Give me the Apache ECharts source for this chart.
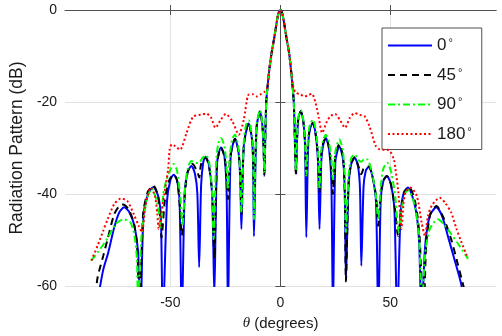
<!DOCTYPE html>
<html lang="en" style="height: 100%">
<head>
<meta charset="utf-8">
<title>Radiation Pattern</title>
</head>
<body style="height: 100%; margin: 0; background: #fff">
<div id="container" style="width: 502px; height: 336px"></div>

<script type="text/javascript" src="https://cdn.jsdelivr.net/npm/echarts@6/dist/echarts.min.js"></script>

<script type="text/javascript">

// [theta (deg), pattern (dB)]
const seriesNames = ['0', '45', '90', '180'];
const xTicks = [-50, 0, 50];
const yTicks = [-60, -40, -20, 0];

const mainLobe = [
    [-6.4, -20], [-5.1, -13.3], [-4.0, -9.4], [-2.8, -6.1], [-1.6, -2.5], [-0.8, -0.6],
    [0, 0], [0.8, -0.6], [1.6, -2.5], [2.8, -6.1], [4.0, -9.4], [4.9, -13.3], [6.1, -20]
];

const pattern0 = [
    [-82.6, -62], [-80.5, -56.5], [-78.2, -52.7], [-75.5, -47.3], [-73.2, -44.0], [-71.0, -42.9],
    [-68.8, -43.8], [-66.3, -46.9], [-64.6, -53], [-63.6, -68],
    [-62.2, -44.7], [-60.0, -39.8], [-57.7, -38.5], [-55.5, -40.5], [-54.3, -45], [-53.4, -68],
    [-51.5, -41.5], [-50.0, -37.0], [-48.5, -35.8], [-47.0, -36.8], [-45.8, -41.5], [-44.8, -68],
    [-43.5, -40.0], [-42.2, -35.3], [-40.4, -33.9], [-38.8, -35.6], [-37.7, -40], [-36.9, -55.9],
    [-36.0, -38.0], [-35.0, -33.0], [-34.0, -31.9], [-32.6, -33.3], [-31.0, -40.0], [-30.0, -62],
    [-28.8, -33.5], [-27.0, -29.9], [-25.4, -31.8], [-24.4, -40], [-23.8, -66],
    [-22.6, -32], [-20.6, -28.0], [-19.1, -30.5], [-18.2, -37], [-17.7, -47.6],
    [-16.6, -29.5], [-14.4, -24.7], [-12.9, -28], [-12.4, -33], [-12.0, -49.2],
    [-10.8, -25.5], [-9.2, -22.0], [-8.1, -25.5], [-7.6, -30], [-7.3, -36],
    ...mainLobe,
    [7.1, -35.7], [7.6, -28], [8.2, -23.5], [9.3, -22.0], [10.5, -24.5], [11.2, -29], [11.8, -49.4],
    [12.6, -30], [13.4, -26], [14.8, -24.5], [16.2, -27.5], [17.1, -33], [17.8, -47.6],
    [18.6, -33], [19.4, -29.5], [20.7, -27.8], [22.2, -30.5], [23.2, -38], [23.9, -66],
    [25.0, -33], [26.8, -29.6], [28.5, -32.5], [29.3, -40], [29.8, -58.8],
    [31.0, -38], [32.2, -33.5], [33.8, -32.1], [35.3, -34], [36.2, -39], [36.8, -55.6],
    [37.8, -38.5], [38.8, -35], [40.2, -34.1], [42.0, -36.5], [43.5, -42], [44.5, -68],
    [45.6, -41.5], [46.8, -37.2], [48.4, -36.1], [50.2, -37.8], [51.8, -43], [53.1, -68],
    [54.6, -44.7], [56.1, -39.7], [58.0, -38.6], [61.2, -42.6], [63.0, -49.8], [64.2, -68],
    [65.7, -52], [67.9, -44.7], [70.9, -42.9], [73.5, -44.8], [76.1, -49.1], [79.0, -54], [82.0, -59.2], [83.0, -62]
];

const pattern45 = [
    [-84.0, -62], [-83.0, -58], [-80.5, -53.5], [-78.5, -49.8], [-75.5, -44.4], [-73.2, -42.6], [-71.5, -42.3],
    [-69.0, -43.3], [-66.5, -46.5], [-65.0, -52], [-64.0, -68],
    [-62.4, -44.5], [-60.2, -39.5], [-57.6, -38.2], [-55.6, -40.5], [-54.6, -45], [-54.0, -49.5],
    [-52.5, -41.5], [-50.5, -37], [-48.5, -35.8], [-47.0, -37], [-45.8, -42], [-44.8, -49],
    [-43.3, -39.5], [-42.0, -35], [-39.9, -33.5], [-37.5, -35.5], [-36.9, -36.4], [-36.0, -33.5],
    [-34.0, -32.1], [-32.4, -34], [-31.0, -40], [-30.0, -54.1],
    [-28.8, -33.5], [-27.0, -29.9], [-25.3, -32], [-24.4, -37], [-23.8, -41.1],
    [-22.8, -32], [-20.6, -28.0], [-19.1, -30.5], [-18.2, -36], [-17.7, -44.7],
    [-16.6, -29.5], [-14.4, -24.5], [-12.9, -28], [-12.3, -33], [-12.0, -40],
    [-10.8, -25.5], [-9.2, -22], [-8.1, -25.5], [-7.6, -30], [-7.3, -36],
    ...mainLobe,
    [7.1, -36], [7.6, -28], [8.2, -23.5], [9.3, -22], [10.5, -24.5], [11.2, -29], [11.8, -36],
    [12.6, -28.5], [13.4, -25.8], [14.8, -24.5], [16.2, -27.5], [17.1, -32], [17.8, -39.7],
    [18.6, -31.5], [19.4, -29], [20.7, -27.8], [22.2, -30], [23.2, -35], [23.9, -40],
    [25.0, -31.5], [26.8, -29.2], [28.5, -32], [29.3, -40], [29.8, -59],
    [31.0, -37.5], [32.2, -33.2], [33.8, -32], [35.5, -34], [36.8, -35.7], [38.0, -34.3], [40.2, -34],
    [42.0, -36.5], [43.5, -40.5], [44.5, -46.9],
    [45.6, -40], [46.8, -37], [48.4, -36.1], [50.2, -37.8], [52.0, -43], [53.5, -49.1],
    [55.0, -43], [56.5, -39.5], [58.6, -38.5], [61.5, -42.3], [63.3, -49.5], [65.0, -68],
    [66.3, -51], [68.2, -44.3], [70.9, -42.6], [74.0, -45], [77.6, -49.8], [80.5, -55], [83.2, -60], [84.0, -62]
];

const pattern90 = [
    [-85.9, -54.5], [-83.0, -52.7], [-78.5, -49.6], [-74.8, -46.5], [-71.1, -45.5], [-68.1, -46.2],
    [-66.3, -49.1], [-65.2, -54.1], [-64.6, -66],
    [-63.9, -56], [-62.9, -48.3], [-60.7, -41.1], [-58.4, -38.8], [-56.2, -41.5], [-55.2, -44], [-54.5, -47.3],
    [-53.2, -40], [-51.8, -37], [-49.6, -34.3], [-48.5, -33.5], [-47.0, -34.8], [-45.6, -40], [-44.5, -46.9],
    [-43.2, -38], [-42.0, -34.3], [-40.4, -32.8], [-38.5, -33.2], [-37.0, -33.3], [-35.5, -32.2],
    [-33.7, -31.6], [-32.2, -33.5], [-31.1, -39], [-30.3, -49.8],
    [-29.2, -33], [-28.2, -29], [-27.0, -27.8], [-25.5, -29.5], [-24.6, -33], [-23.8, -39],
    [-22.8, -31], [-21.8, -28], [-20.6, -27.1], [-19.2, -29.5], [-18.3, -35], [-17.7, -44],
    [-16.6, -28.5], [-15.6, -25], [-14.4, -24], [-12.9, -27.5], [-12.3, -33], [-12.0, -45.5],
    [-10.8, -25], [-9.2, -21.8], [-8.1, -25], [-7.6, -30], [-7.3, -35.4],
    ...mainLobe,
    [7.1, -35], [7.6, -27.5], [8.2, -23.2], [9.3, -21.8], [10.5, -24], [11.2, -28.5], [11.8, -36],
    [12.6, -27.5], [13.4, -25], [14.8, -23.8], [16.2, -26.5], [17.1, -31], [17.8, -39],
    [18.6, -30.5], [19.4, -28.3], [20.7, -27.1], [22.2, -29], [23.2, -32.5], [23.9, -36.8],
    [25.0, -30.8], [26.8, -28.1], [28.4, -30.5], [29.3, -37], [29.8, -48.3],
    [31.0, -36], [32.2, -32.2], [33.8, -31.4], [35.5, -32.6], [36.8, -33.0], [38.2, -32.4], [39.6, -32.5],
    [41.5, -35], [43.3, -40], [44.5, -45.5],
    [45.6, -38.5], [46.8, -34.5], [48.6, -33.2], [50.5, -35.5], [52.3, -41], [53.8, -48.3],
    [55.2, -43], [56.6, -40], [58.0, -39.1], [60.5, -41.5], [62.8, -48], [64.5, -64],
    [65.7, -53.4], [67.9, -47.6], [71.6, -45.5], [74.6, -46.8], [77.6, -48.7], [81.3, -51.2], [85.3, -54.1]
];

const pattern180 = [
    [-85.9, -54.5], [-83.0, -51.2], [-80.5, -48], [-78.5, -45.5], [-75.5, -42.2], [-72.5, -41.0],
    [-69.6, -41.5], [-66.6, -44.4], [-64.4, -46.9], [-62.9, -48.3], [-61.4, -42.9], [-58.9, -38.6],
    [-57.0, -40.4], [-55.9, -44.4], [-55.3, -47.6], [-53.3, -41.8], [-51.0, -34.6], [-50.3, -30.3],
    [-49.3, -29.2], [-47.8, -29.6], [-45.6, -30.4], [-42.6, -26.7], [-39.6, -23.2], [-35.2, -22.7],
    [-33.7, -22.5], [-31.5, -23.4], [-29.5, -25.6], [-27.0, -23.8], [-24.8, -22.6], [-21.8, -24.2],
    [-18.9, -27.1], [-16.6, -23.8], [-14.6, -18.5], [-12.5, -18.3], [-10.7, -18.8], [-8.5, -18.2],
    [-7.2, -17.8], [-6.0, -17.0],
    [-5.1, -13.3], [-4.0, -9.4], [-2.8, -6.1], [-1.6, -2.5], [-0.8, -0.6], [0, 0],
    [0.8, -0.6], [1.6, -2.5], [2.8, -6.1], [4.0, -9.4], [4.9, -13.3],
    [6.0, -17.0], [7.1, -18.0], [9.3, -18.4], [10.8, -18.8], [12.3, -18.6], [14.3, -18.2], [16.0, -20.2],
    [17.5, -23.5], [19.0, -26.7], [21.2, -24.2], [23.0, -23], [24.9, -22.6], [27.2, -24], [29.4, -25.6],
    [31.5, -23.5], [33.8, -22.4], [36.0, -22.8], [38.3, -23.1], [40.5, -25.3], [43.4, -29.6],
    [45.2, -30.3], [49.4, -30.5], [51.6, -32.5], [52.3, -34.6], [53.5, -39], [54.6, -45.5], [55.0, -47.6],
    [56.0, -42], [56.8, -39.7], [59.0, -38.6], [62.0, -40.4], [64.2, -46.2], [65.7, -49.1], [67.0, -45],
    [68.7, -42.6], [72.4, -40.8], [75.0, -42], [77.6, -44], [80.0, -47.5], [82.0, -50.1], [85.0, -53.7]
];

const patterns = [pattern0, pattern45, pattern90, pattern180];
const colors = ['#0000ff', '#000000', '#00ff00', '#ff0000'];
const dashes = ['solid', [7, 5], [7, 3, 2, 3], [2, 2.5]];

var dom = document.getElementById('container');
var myChart = echarts.init(dom, null, { renderer: 'canvas' });

const axisColor = '#505050';
const gridColor = '#e2e2e2';
const font = 'Liberation Sans, Arial, sans-serif';

var option = {
    animation: false,
    backgroundColor: '#fff',
    textStyle: { fontFamily: font },
    grid: { left: 56, right: 6, top: 10, bottom: 49 },
    legend: {
        orient: 'vertical',
        left: 382,
        top: 28,
        itemWidth: 44,
        itemHeight: 12,
        itemGap: 12.5,
        padding: [9, 10, 7, 5],
        borderColor: axisColor,
        borderWidth: 1,
        backgroundColor: '#fff',
        data: seriesNames,
        itemStyle: { opacity: 0 },
        formatter: function (name) { return '{n|' + name + '}{d|°}'; },
        textStyle: {
            fontSize: 17,
            color: '#1a1a1a',
            fontFamily: font,
            rich: {
                n: { fontSize: 17, lineHeight: 16, fontFamily: font, color: '#1a1a1a' },
                d: { fontSize: 11, lineHeight: 7, verticalAlign: 'top', padding: [0, 0, 0, 2], fontFamily: font, color: '#1a1a1a' }
            }
        }
    },
    xAxis: [
        {
            type: 'value',
            min: -97.8,
            max: 98,
            position: 'bottom',
            name: '{i|θ} (degrees)',
            nameLocation: 'middle',
            nameGap: 30,
            nameTextStyle: {
                fontSize: 15, color: '#1a1a1a', fontFamily: font,
                rich: { i: { fontSize: 15, fontStyle: 'italic', fontFamily: 'Liberation Serif, serif', color: '#1a1a1a' } }
            },
            axisLine: { lineStyle: { color: axisColor, width: 1 } },
            axisTick: { inside: true, length: 5, customValues: xTicks, lineStyle: { color: axisColor } },
            axisLabel: { customValues: xTicks, fontSize: 14, color: '#1a1a1a', margin: 10 },
            splitLine: { show: true, lineStyle: { color: gridColor, width: 1 } }
        },
        {
            type: 'value',
            min: -97.8,
            max: 98,
            position: 'top',
            axisLine: { show: true, lineStyle: { color: axisColor, width: 1 } },
            axisTick: { inside: true, length: 5, customValues: xTicks, lineStyle: { color: axisColor } },
            axisLabel: { show: false },
            splitLine: { show: false }
        }
    ],
    yAxis: [
        {
            type: 'value',
            min: -60,
            max: 0,
            interval: 20,
            name: 'Radiation Pattern (dB)',
            nameLocation: 'middle',
            nameGap: 34,
            nameTextStyle: { fontSize: 17.5, color: '#1a1a1a', fontFamily: font },
            axisLine: { show: true, lineStyle: { color: axisColor, width: 1 } },
            axisTick: { show: true, inside: true, length: 5, lineStyle: { color: axisColor } },
            axisLabel: { fontSize: 14, color: '#1a1a1a', margin: 8 },
            splitLine: { show: true, lineStyle: { color: gridColor, width: 1 } }
        },
        {
            type: 'value',
            min: -60,
            max: 0,
            interval: 20,
            position: 'right',
            axisLine: { show: true, lineStyle: { color: axisColor, width: 1 } },
            axisTick: { show: true, inside: true, length: 5, lineStyle: { color: axisColor } },
            axisLabel: { show: false },
            splitLine: { show: false }
        }
    ],
    series: seriesNames.map(function (name, i) {
        return {
            name: name,
            type: 'line',
            data: patterns[i],
            symbol: 'none',
            showSymbol: false,
            smooth: 0.25,
            clip: true,
            lineStyle: { color: colors[i], width: 2, type: dashes[i] },
            itemStyle: { color: colors[i] },
            z: 2 + i
        };
    })
};

if (option && typeof option === 'object') {
    myChart.setOption(option);
}

window.addEventListener('resize', myChart.resize);
</script>
</body>
</html>
